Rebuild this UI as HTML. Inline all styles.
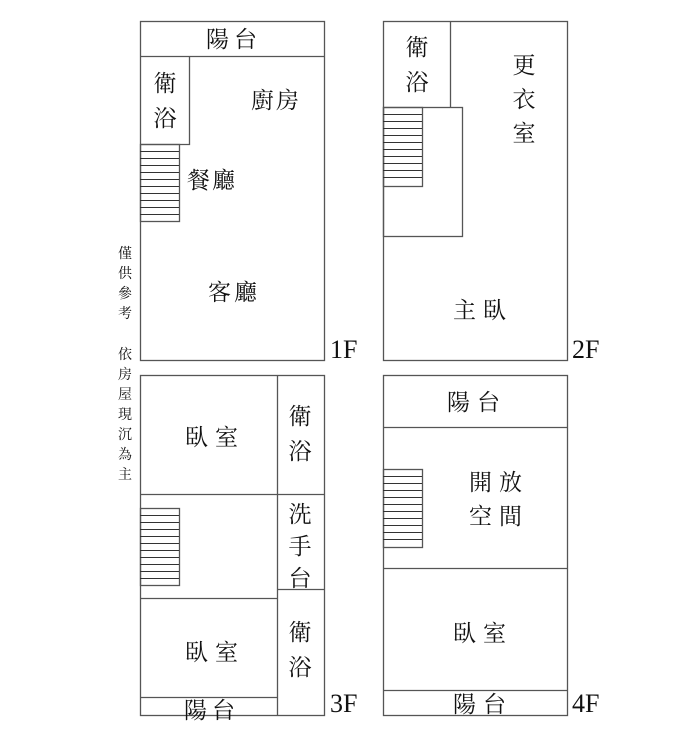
<!DOCTYPE html>
<html><head><meta charset="utf-8"><style>
html,body{margin:0;padding:0;background:#fff;}
svg{display:block}
text{font-family:"Liberation Serif","Noto Serif CJK SC",serif;fill:#111;}
.b{font-size:23px;}
.s{font-size:14px;}
.f{font-family:"Liberation Serif",serif;font-size:26px;}
</style></head><body>
<svg width="698" height="736" viewBox="0 0 698 736" xmlns="http://www.w3.org/2000/svg">
<g fill="none" stroke="#555" stroke-width="1.3">
<rect x="140.5" y="21.5" width="184" height="339"/>
<line x1="140" y1="56.5" x2="324" y2="56.5"/>
<polyline points="189.5,56 189.5,144.5 140,144.5"/>
<rect x="140.5" y="144.5" width="39" height="77"/>
<rect x="383.5" y="21.5" width="184" height="339"/>
<line x1="450.5" y1="21" x2="450.5" y2="107"/>
<rect x="383.5" y="107.5" width="79" height="129"/>
<rect x="383.5" y="107.5" width="39" height="79"/>
<rect x="140.5" y="375.5" width="184" height="340"/>
<line x1="277.5" y1="375" x2="277.5" y2="715"/>
<line x1="140" y1="494.5" x2="324" y2="494.5"/>
<line x1="277" y1="589.5" x2="324" y2="589.5"/>
<line x1="140" y1="598.5" x2="277" y2="598.5"/>
<line x1="140" y1="697.5" x2="277" y2="697.5"/>
<rect x="140.5" y="508.5" width="39" height="77"/>
<rect x="383.5" y="375.5" width="184" height="340"/>
<line x1="383" y1="427.5" x2="567" y2="427.5"/>
<line x1="383" y1="568.5" x2="567" y2="568.5"/>
<line x1="383" y1="690.5" x2="567" y2="690.5"/>
<rect x="383.5" y="469.5" width="39" height="78"/>
</g>
<g stroke="#333" stroke-width="1">
<path d="M140 151.5h39M140 158.5h39M140 165.5h39M140 172.5h39M140 179.5h39M140 186.5h39M140 193.5h39M140 200.5h39M140 207.5h39M140 214.5h39"/>
<path d="M383 114.5h39M383 121.5h39M383 128.5h39M383 135.5h39M383 142.5h39M383 149.5h39M383 156.5h39M383 163.5h39M383 170.5h39M383 177.5h39"/>
<path d="M140 515.5h39M140 522.5h39M140 529.5h39M140 536.5h39M140 543.5h39M140 550.5h39M140 557.5h39M140 564.5h39M140 571.5h39M140 578.5h39"/>
<path d="M383 476.5h39M383 483.5h39M383 490.5h39M383 497.5h39M383 504.5h39M383 511.5h39M383 518.5h39M383 525.5h39M383 532.5h39M383 539.5h39"/>
</g>
<text class="b" x="234" y="47" text-anchor="middle" letter-spacing="5">陽台</text>
<text class="b" x="165" y="91" text-anchor="middle">衛</text>
<text class="b" x="165" y="126" text-anchor="middle">浴</text>
<text class="b" x="276" y="108" text-anchor="middle" letter-spacing="2">廚房</text>
<text class="b" x="212" y="188" text-anchor="middle" letter-spacing="2">餐廳</text>
<text class="b" x="234" y="300" text-anchor="middle" letter-spacing="3">客廳</text>
<text class="f" x="330" y="358">1F</text>
<g text-anchor="middle">
<text class="s" x="125" y="258">僅</text>
<text class="s" x="125" y="278">供</text>
<text class="s" x="125" y="298">參</text>
<text class="s" x="125" y="318">考</text>
<text class="s" x="125" y="359">依</text>
<text class="s" x="125" y="379">房</text>
<text class="s" x="125" y="399">屋</text>
<text class="s" x="125" y="419">現</text>
<text class="s" x="125" y="439">沉</text>
<text class="s" x="125" y="459">為</text>
<text class="s" x="125" y="479">主</text>
</g>
<text class="b" x="417" y="55" text-anchor="middle">衛</text>
<text class="b" x="417" y="90" text-anchor="middle">浴</text>
<text class="b" x="524" y="73" text-anchor="middle">更</text>
<text class="b" x="524" y="107" text-anchor="middle">衣</text>
<text class="b" x="524" y="141" text-anchor="middle">室</text>
<text class="b" x="483" y="318" text-anchor="middle" letter-spacing="7">主臥</text>
<text class="f" x="572" y="358">2F</text>
<text class="b" x="215" y="445" text-anchor="middle" letter-spacing="7">臥室</text>
<text class="b" x="300" y="424" text-anchor="middle">衛</text>
<text class="b" x="300" y="459" text-anchor="middle">浴</text>
<text class="b" x="300" y="522" text-anchor="middle">洗</text>
<text class="b" x="300" y="554" text-anchor="middle">手</text>
<text class="b" x="300" y="586" text-anchor="middle">台</text>
<text class="b" x="300" y="640" text-anchor="middle">衛</text>
<text class="b" x="300" y="675" text-anchor="middle">浴</text>
<text class="b" x="215" y="660" text-anchor="middle" letter-spacing="7">臥室</text>
<text class="b" x="212" y="718" text-anchor="middle" letter-spacing="5">陽台</text>
<text class="f" x="330" y="712">3F</text>
<text class="b" x="477" y="410" text-anchor="middle" letter-spacing="7">陽台</text>
<text class="b" x="499" y="490" text-anchor="middle" letter-spacing="7">開放</text>
<text class="b" x="499" y="524" text-anchor="middle" letter-spacing="7">空間</text>
<text class="b" x="483" y="641" text-anchor="middle" letter-spacing="7">臥室</text>
<text class="b" x="483" y="712" text-anchor="middle" letter-spacing="7">陽台</text>
<text class="f" x="572" y="712">4F</text>
</svg>
</body></html>
